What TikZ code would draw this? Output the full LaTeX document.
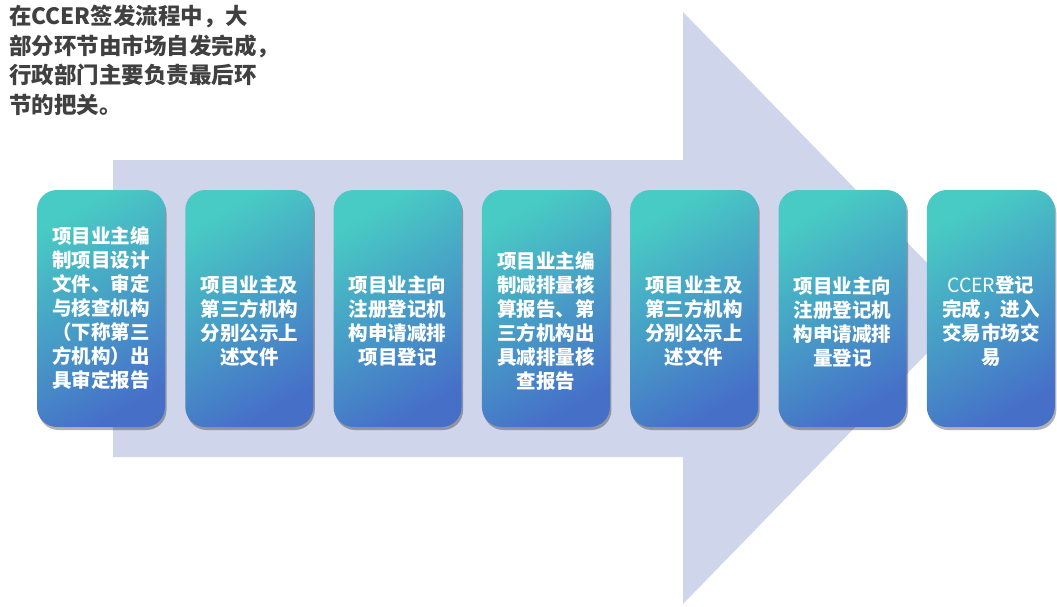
\documentclass[tikz,border=0pt]{standalone}
\usepackage{fontspec}
\newfontfamily\cjk{Noto Sans CJK SC}
\usetikzlibrary{shadows}
\definecolor{arrowbg}{HTML}{CFD5EA}
\definecolor{stageteal}{HTML}{48CBC4}
\definecolor{stageblue}{HTML}{4670C8}
\definecolor{headgray}{HTML}{404040}
\tikzset{
  stage/.style={rounded corners=20pt, minimum width=128pt, minimum height=237pt, inner sep=0pt,
    top color=stageteal, bottom color=stageblue, shading angle=30,
    drop shadow={shadow xshift=1.5pt, shadow yshift=-3pt, opacity=0.3, fill=black}},
  stagetext/.style={inner sep=0pt, align=center, text=white, font=\cjk\bfseries\fontsize{19.5}{24}\selectfont},
  headline/.style={anchor=north west, inner sep=0pt, align=left, text=headgray,
    font=\cjk\bfseries\fontsize{22.5}{29.5}\selectfont}
}
\begin{document}
\begin{tikzpicture}[x=1pt, y=-1pt]
                    \useasboundingbox (0,0) rectangle (1057,606);
                    \fill [arrowbg] (113,160) -- (683,160) -- (683,12) -- (971,308) -- (683,604) -- (683,457) -- (113,457) -- cycle;
                    \node [headline] (head) at (9,5) {在CCER签发流程中，大\\部分环节由市场自发完成，\\行政部门主要负责最后环\\节的把关。};
                    \node [stage] (s1) at (101,308.5) {};
                    \node [stage] (s2) at (249.3,308.5) {};
                    \node [stage] (s3) at (397.6,308.5) {};
                    \node [stage] (s4) at (545.9,308.5) {};
                    \node [stage] (s5) at (694.2,308.5) {};
                    \node [stage] (s6) at (842.5,308.5) {};
                    \node [stage] (s7) at (990.8,308.5) {};
                    \node [stagetext] (t1) at (s1.center) {项目业主编\\制项目设计\\文件、审定\\与核查机构\\（下称第三\\方机构）出\\具审定报告};
                    \node [stagetext] (t2) at ([yshift=-13pt]s2.center) {项目业主及\\第三方机构\\分别公示上\\述文件};
                    \node [stagetext] (t3) at ([yshift=-13pt]s3.center) {项目业主向\\注册登记机\\构申请减排\\项目登记};
                    \node [stagetext] (t4) at ([yshift=-13pt]s4.center) {项目业主编\\制减排量核\\算报告、第\\三方机构出\\具减排量核\\查报告};
                    \node [stagetext] (t5) at ([yshift=-13pt]s5.center) {项目业主及\\第三方机构\\分别公示上\\述文件};
                    \node [stagetext] (t6) at ([yshift=-13pt]s6.center) {项目业主向\\注册登记机\\构申请减排\\量登记};
                    \node [stagetext] (t7) at ([yshift=-13pt]s7.center) {{\mdseries CCER}登记\\完成，进入\\交易市场交\\易};
                \end{tikzpicture}
\end{document}
